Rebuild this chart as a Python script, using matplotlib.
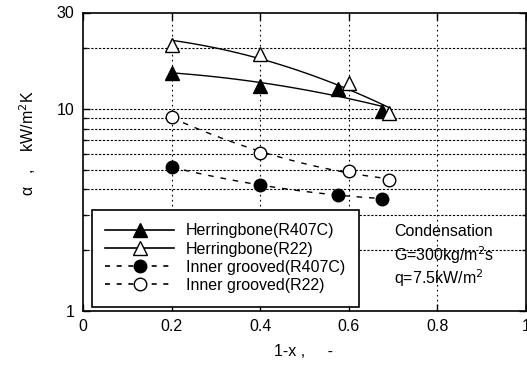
import numpy as np
import matplotlib
matplotlib.use("Agg")
import matplotlib.pyplot as plt
from matplotlib.ticker import FixedLocator, NullFormatter, FixedFormatter

plt.rcParams['font.family'] = ['Liberation Sans', 'DejaVu Sans']

# Data
hb407_x = [0.20, 0.40, 0.575, 0.675]
hb407_y = [15.1, 13.0, 12.6, 9.8]
hb22_x = [0.20, 0.40, 0.60, 0.69]
hb22_y = [20.6, 18.7, 13.4, 9.5]
ig407_x = [0.20, 0.40, 0.575, 0.675]
ig407_y = [5.15, 4.2, 3.75, 3.6]
ig22_x = [0.20, 0.40, 0.60, 0.69]
ig22_y = [9.1, 6.07, 4.95, 4.45]

labels = ["Herringbone(R407C)", "Herringbone(R22)",
          "Inner grooved(R407C)", "Inner grooved(R22)"]

fig = plt.figure(figsize=(5.27, 3.69), dpi=100)
ax = fig.add_axes([83/527, 58/369, 443/527, 298.5/369])

def fit_sq(x, y):
    x = np.asarray(x)
    p = np.polyfit(x ** 2, np.log10(y), 1)
    xs = np.linspace(x.min(), x.max(), 100)
    return xs, 10 ** np.polyval(p, xs ** 2)

def fit_q(x, y):
    p = np.polyfit(x, np.log10(y), 2)
    xs = np.linspace(min(x), max(x), 100)
    return xs, 10 ** np.polyval(p, xs)

dash = (0, (4, 5))
series = [
    (hb407_x, hb407_y, '-', '^', 'black', fit_sq),
    (hb22_x, hb22_y, '-', '^', 'white', fit_sq),
    (ig407_x, ig407_y, dash, 'o', 'black', fit_q),
    (ig22_x, ig22_y, dash, 'o', 'white', fit_q),
]
handles = []
for (x, y, ls, mk, fc, f), lab in zip(series, labels):
    xs, ys = f(x, y)
    ax.plot(xs, ys, color='black', lw=1.0, ls=ls, zorder=3)
    ax.plot(x, y, ls='none', marker=mk, ms=10 if mk == '^' else 9,
            mfc=fc, mec='black', mew=1.0, zorder=4)
    h, = ax.plot([], [], color='black', lw=1.2, ls=ls if ls == '-' else (0, (3, 4)),
                 marker=mk, ms=10 if mk == '^' else 9, mfc=fc, mec='black', mew=1.0)
    handles.append(h)

ax.set_yscale('log')
ax.set_xlim(0, 1)
ax.set_ylim(1, 30)

ax.yaxis.set_major_locator(FixedLocator([1, 10, 30]))
ax.yaxis.set_major_formatter(FixedFormatter(['1', '10', '30']))
ax.yaxis.set_minor_locator(FixedLocator([2, 3, 4, 5, 6, 7, 8, 9, 20]))
ax.yaxis.set_minor_formatter(NullFormatter())
ax.set_xticks([0, 0.2, 0.4, 0.6, 0.8, 1.0])
ax.set_xticklabels(['0', '0.2', '0.4', '0.6', '0.8', '1'])

ax.tick_params(which='both', direction='in', top=True, right=True,
               labelsize=11.5, width=1.0)
ax.tick_params(which='major', length=5)
ax.tick_params(which='minor', length=3)
ax.tick_params(axis='x', pad=6)
ax.tick_params(axis='y', pad=6)

for y in [2, 3, 4, 5, 6, 7, 8, 9, 10, 20]:
    ax.axhline(y, color='black', lw=0.8, ls=(0, (2, 1.5)), zorder=1)
for x in [0.2, 0.4, 0.6, 0.8]:
    ax.axvline(x, color='black', lw=0.8, ls=(0, (1.5, 3)), zorder=1)

for s in ax.spines.values():
    s.set_linewidth(1.2)

leg = ax.legend(handles, labels, loc='lower left', bbox_to_anchor=(0.02, 0.015),
                fontsize=11.5, handlelength=4.3, handletextpad=0.75,
                labelspacing=0.2, borderpad=0.85, fancybox=False,
                framealpha=1, edgecolor='black', borderaxespad=0)
leg.get_frame().set_linewidth(1.2)

ax.text(0.703, 0.265, "Condensation", transform=ax.transAxes, fontsize=11.5,
        va='center', ha='left', zorder=5)
ax.text(0.703, 0.188, "G=300kg/m$^2$s", transform=ax.transAxes, fontsize=11.5,
        va='center', ha='left', zorder=5)
ax.text(0.703, 0.11, "q=7.5kW/m$^2$", transform=ax.transAxes, fontsize=11.5,
        va='center', ha='left', zorder=5)

fig.text(303/527, 1 - 352/369, "1-x ,     -", ha='center', va='center', fontsize=11.5)
fig.text(28/527, 1 - 143/369, "α   ,    kW/m$^2$K", ha='center', va='center',
         rotation=90, fontsize=11.5)

fig.savefig("out.png", dpi=100)
